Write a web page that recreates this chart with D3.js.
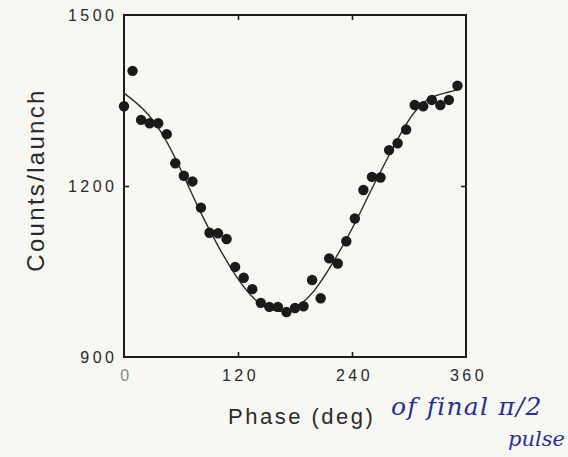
<!DOCTYPE html>
<html>
<head>
<meta charset="utf-8">
<script src="https://cdn.jsdelivr.net/npm/d3@7"></script>
<style>
  html, body { margin: 0; padding: 0; background: #f7f7f4; }
  svg { display: block; }
</style>
</head>
<body>
<script>
// measured points, phase in degrees
const phases = [0, 9, 18, 27, 36, 45, 54, 63, 72, 81, 90, 99, 108, 117, 126, 135, 144, 153, 162, 171,
  180, 189, 198, 207, 216, 225, 234, 243, 252, 261, 270, 279, 288, 297, 306, 315, 324, 333, 342, 351];
const counts = [1340, 1402, 1316, 1310, 1310, 1291, 1240, 1218, 1208, 1162, 1118, 1117, 1107, 1058, 1039, 1019, 995, 988, 988, 979,
  986, 989, 1035, 1003, 1073, 1064, 1103, 1143, 1193, 1216, 1215, 1263, 1275, 1299, 1342, 1340, 1351, 1342, 1351, 1376];

// fitted curve
const fitPhase = [0, 20, 40, 60, 80, 100, 120, 140, 160, 180, 200, 220, 240, 260, 280, 300, 320, 340, 352];
const fitCounts = [1363, 1335, 1292, 1228, 1156, 1092, 1037, 998, 981, 987, 1016, 1066, 1125, 1192, 1257, 1316, 1352, 1364, 1370];

const xTicks = [0, 120, 240, 360];
const yTicks = [900, 1200, 1500];

const width = 568, height = 457;
const margin = {top: 15, right: 102, bottom: 100, left: 124};

const x = d3.scaleLinear().domain([0, 360]).range([margin.left, width - margin.right]);
const y = d3.scaleLinear().domain([900, 1500]).range([height - margin.bottom, margin.top]);

const svg = d3.select("body").append("svg")
  .attr("width", width)
  .attr("height", height)
  .style("background", "#f7f7f4");

const ink = "#1d1d1d";
const tickFont = "'Liberation Sans', Arial, sans-serif";
const fmt = d3.format("d");

// inner ticks on all four sides
const gx = svg.append("g")
  .attr("transform", `translate(0,${y(900)})`)
  .call(d3.axisBottom(x).tickValues(xTicks).tickSize(-5).tickPadding(13).tickFormat(fmt));
const gxTop = svg.append("g")
  .attr("transform", `translate(0,${y(1500)})`)
  .call(d3.axisTop(x).tickValues([120, 240]).tickSize(-5).tickFormat(""));
const gy = svg.append("g")
  .attr("transform", `translate(${x(0)},0)`)
  .call(d3.axisLeft(y).tickValues(yTicks).tickSize(-5).tickPadding(10).tickFormat(fmt));
const gyRight = svg.append("g")
  .attr("transform", `translate(${x(360)},0)`)
  .call(d3.axisRight(y).tickValues([1200]).tickSize(-5).tickFormat(""));

[gx, gxTop, gy, gyRight].forEach(g => {
  g.select(".domain").remove();
  g.selectAll(".tick line").attr("stroke", ink).attr("stroke-width", 1.6);
  g.selectAll(".tick text")
    .attr("fill", "#2a2a2a")
    .attr("font-family", tickFont)
    .attr("font-size", 16)
    .attr("letter-spacing", 3.5);
});
gx.selectAll(".tick").filter(d => d == 0 || d == 360).select("line").remove();
gx.selectAll(".tick text").attr("dx", 2);
gx.selectAll(".tick").filter(d => d == 0).select("text").attr("fill", "#888");
gy.selectAll(".tick").filter(d => d == 900 || d == 1500).select("line").remove();
gy.selectAll(".tick text").attr("dx", 3.5);

// frame
svg.append("rect")
  .attr("x", x(0))
  .attr("y", y(1500))
  .attr("width", x(360) - x(0))
  .attr("height", y(900) - y(1500))
  .attr("fill", "none")
  .attr("stroke", ink)
  .attr("stroke-width", 2);

// fit line
const line = d3.line()
  .x((d, i) => x(fitPhase[i]))
  .y(d => y(d))
  .curve(d3.curveNatural);

svg.append("path")
  .datum(fitCounts)
  .attr("fill", "none")
  .attr("stroke", "#2a2a2a")
  .attr("stroke-width", 1.4)
  .attr("d", line);

// data points
svg.append("g")
  .selectAll("circle")
  .data(counts)
  .join("circle")
  .attr("cx", (d, i) => x(phases[i]))
  .attr("cy", d => y(d))
  .attr("r", 5.2)
  .attr("fill", "#1a1a1a");

// axis titles
svg.append("text")
  .attr("transform", `translate(44,180) rotate(-90)`)
  .attr("text-anchor", "middle")
  .attr("font-family", tickFont)
  .attr("font-size", 24)
  .attr("letter-spacing", 2.3)
  .attr("fill", "#2a2a2a")
  .text("Counts/launch");

svg.append("text")
  .attr("x", 228)
  .attr("y", 424)
  .attr("font-family", tickFont)
  .attr("font-size", 22)
  .attr("letter-spacing", 2.5)
  .attr("fill", "#2a2a2a")
  .text("Phase (deg)");

// handwritten note
const pen = "#2b2f8f";
svg.append("text")
  .attr("x", 391)
  .attr("y", 415)
  .attr("font-family", "'DejaVu Serif', serif")
  .attr("font-style", "italic")
  .attr("font-size", 25)
  .attr("letter-spacing", 1.2)
  .attr("fill", pen)
  .text("of final π/2");

svg.append("text")
  .attr("x", 508)
  .attr("y", 446)
  .attr("font-family", "'DejaVu Serif', serif")
  .attr("font-style", "italic")
  .attr("font-size", 21)
  .attr("fill", pen)
  .text("pulse");
</script>
</body>
</html>
